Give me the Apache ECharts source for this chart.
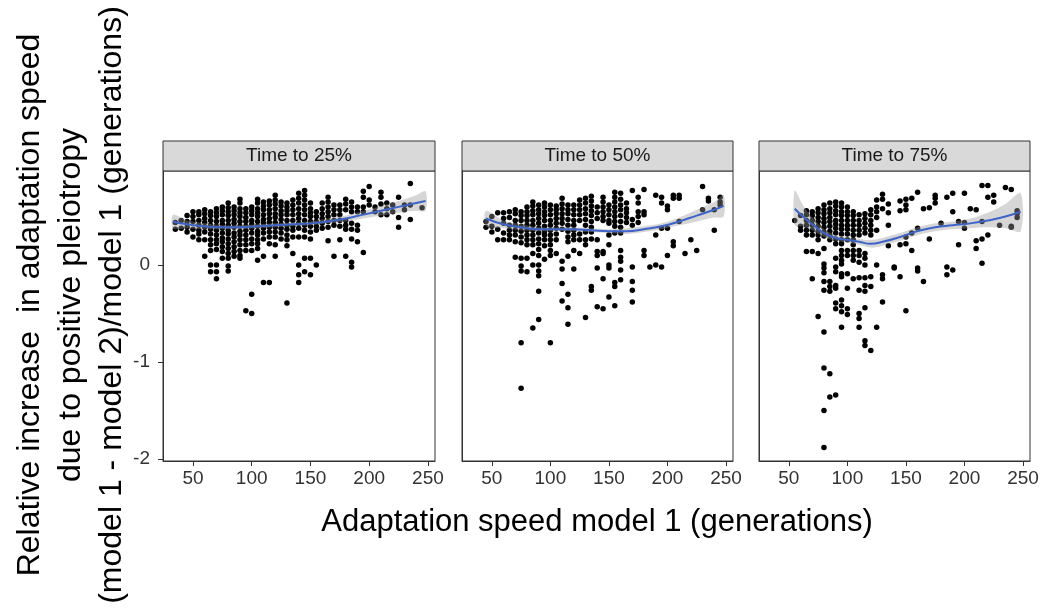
<!DOCTYPE html>
<html><head><meta charset="utf-8">
<script src="https://cdn.jsdelivr.net/npm/echarts@6/dist/echarts.min.js"></script>
<style>html,body{margin:0;padding:0;background:#fff}#c{width:1043px;height:615px}</style>
</head><body><div id="c"></div>
<script>
// ---------- DATA ----------
const panelTitles = ['Time to 25%', 'Time to 50%', 'Time to 75%'];
const xTicks = [50, 100, 150, 200, 250];
const yTicks = [-2, -1, 0];
const xTitle = 'Adaptation speed model 1 (generations)';
const yTitleLines = ['Relative increase  in adaptation speed', 'due to positive pleiotropy', '(model 1 - model 2)/model 1 (generations)'];

// points, grouped by x value: [x, [y values]]
const pts25 = [
 [35,[0.44,0.37]],[40,[0.46,0.38]],[45,[0.51,0.45,0.39,0.34]],[50,[0.55,0.50,0.45,0.37,0.29]],
 [55,[0.55,0.52,0.46,0.41,0.36,0.32,0.26]],[60,[0.57,0.53,0.48,0.44,0.39,0.34,0.26,0.09]],
 [65,[0.55,0.51,0.46,0.41,0.37,0.32,0.26,0.21,0.15,0,-0.07]],
 [70,[0.58,0.54,0.50,0.45,0.40,0.36,0.31,0.26,0.22,0.16,0,-0.07,-0.14]],
 [75,[0.60,0.56,0.52,0.46,0.42,0.38,0.33,0.28,0.24,0.19,0.14,0.07]],
 [80,[0.64,0.59,0.55,0.51,0.46,0.41,0.36,0.32,0.27,0.22,0.17,0.12,0.07,-0.01,-0.06]],
 [85,[0.60,0.56,0.52,0.47,0.43,0.39,0.33,0.29,0.24,0.19,0.14,0.09]],
 [90,[0.68,0.64,0.58,0.54,0.50,0.45,0.40,0.35,0.31,0.26,0.21,0.15,0.10,0.07]],
 [95,[0.58,0.54,0.49,0.45,0.40,0.36,0.31,0.26,0.21,0.15,-0.47]],
 [100,[0.60,0.56,0.52,0.46,0.42,0.38,0.33,0.27,0.22,0.15,-0.30,-0.50]],
 [105,[0.68,0.64,0.58,0.54,0.50,0.45,0.40,0.35,0.31,0.26,0.22,0.17,0.05]],
 [110,[0.65,0.61,0.57,0.52,0.47,0.43,0.38,0.33,0.27,0.09,-0.18]],
 [115,[0.66,0.62,0.57,0.53,0.48,0.44,0.39,0.34,0.29,0.22,-0.18]],
 [120,[0.72,0.67,0.63,0.58,0.53,0.49,0.44,0.39,0.34,0.29,0.21,0.09]],
 [125,[0.65,0.61,0.56,0.52,0.47,0.42,0.38,0.33,0.27]],
 [130,[0.64,0.60,0.56,0.52,0.46,0.41,0.37,0.31,0.26,0.20,-0.39]],
 [135,[0.67,0.62,0.57,0.52,0.46,0.40,0.36,0.29,0.12]],
 [140,[0.74,0.69,0.64,0.58,0.53,0.48,0.43,0.38,0.29,0,-0.10,-0.18]],
 [145,[0.77,0.72,0.67,0.62,0.57,0.52,0.46,0.41,0.36,0.29,0.07,-0.07]],
 [150,[0.64,0.58,0.54,0.50,0.45,0.40,0.34,0.27,0.07,-0.10]],
 [155,[0.55,0.50,0.45,0.40,0.36,0]],
 [160,[0.64,0.58,0.53,0.48,0.43,0.38]],
 [165,[0.70,0.65,0.60,0.55,0.50,0.45,0.39,0.25]],
 [170,[0.62,0.57,0.52,0.46,0.41,0.09]],
 [175,[0.62,0.57,0.52,0.46,0.40,0.26]],
 [180,[0.68,0.63,0.57,0.46,0.41,0.37,0.09]],
 [185,[0.65,0.60,0.55,0.43,0.37,0.27,0.03,-0.02]],
 [190,[0.60,0.55,0.41,0.36,0.24]],
 [195,[0.76,0.70,0.60,0.55,0.13]],
 [200,[0.81,0.67,0.62]],[205,[0.60,0.55]],[210,[0.75,0.70,0.63,0.52]],[215,[0.64,0.58,0.52]],
 [220,[0.62,0.55]],[225,[0.70,0.49,0.39]],[230,[0.62,0.57]],[235,[0.84,0.62,0.47]],[245,[0.59]]
];
const pts50 = [
 [45,[0.45,0.39]],[50,[0.50,0.40,0.34]],[55,[0.54,0.37,0.26]],[60,[0.54,0.48,0.43,0.33,0.26]],
 [65,[0.55,0.49,0.41,0.36,0.31,0.26]],[70,[0.57,0.53,0.46,0.41,0.36,0.31,0.24,0.08]],
 [75,[0.55,0.51,0.46,0.40,0.35,0.29,0.23,0.07,-0.01,-0.06,-0.80,-1.27]],
 [80,[0.60,0.55,0.51,0.46,0.41,0.36,0.31,0.26,0.21,0.07,-0.07]],
 [85,[0.65,0.61,0.56,0.52,0.46,0.41,0.36,0.31,0.26,0.21,0.12,0,-0.65]],
 [90,[0.62,0.57,0.53,0.48,0.43,0.38,0.33,0.27,0.22,0.16,0.10,0,-0.06,-0.11,-0.27,-0.56]],
 [95,[0.64,0.60,0.55,0.51,0.46,0.40,0.35,0.31,0.26,0.20,0.06]],
 [100,[0.62,0.57,0.52,0.46,0.41,0.36,0.31,0.26,0.21,0.15,0.10,-0.80]],
 [105,[0.61,0.57,0.53,0.48,0.43,0.38,0.32,0.26,0.12]],
 [110,[0.69,0.63,0.58,0.53,0.48,0.43,0.37,0.04,-0.04,-0.19,-0.37]],
 [115,[0.62,0.57,0.53,0.47,0.41,0.35,0.29,0.24,0.09,-0.30,-0.44,-0.61]],
 [120,[0.62,0.57,0.52,0.46,0.41,0.36,0.31,0.26,0.15,-0.04]],
 [125,[0.67,0.62,0.57,0.52,0.46,0.32,0.26,0.12]],
 [130,[0.69,0.64,0.58,0.53,0.47,0.41,0.34,0.26,0.21,-0.54]],
 [135,[0.71,0.66,0.61,0.56,0.51,0.45,0.39,0.34,0.27,-0.22,-0.26]],
 [140,[0.60,0.54,0.48,0.26,0.14,0.10,-0.03,-0.43]],
 [145,[0.70,0.65,0.60,0.55,0.50,0.46,0.14,0.12,-0.14,-0.45]],
 [150,[0.62,0.57,0.52,0.46,0.43,0.31,0.21,0,-0.03,-0.33]],
 [155,[0.75,0.70,0.65,0.60,0.55,0.50,0.45,0.40,0.33,-0.18,-0.22,-0.42]],
 [160,[0.74,0.68,0.62,0.57,0.51,0.45,0.39,0.33,0.15,0.08,0.04,-0.05,-0.15]],
 [165,[0.64,0.58,0.54,0.49,0.44]],
 [170,[0.77,0.47,0.41,-0.02,-0.17,-0.26,-0.38]],
 [175,[0.70,0.64,0.55,0.50,0.44]],
 [180,[0.78,0.55,0.52,0.15,0.10]],
 [185,[-0.02]],[190,[0.72,0.31,0]],[195,[0.70,0.64,0.38,-0.02]],[200,[0.61,0.57,0.38,0.10]],
 [205,[0.72,0.69,0.24,0.20]],[210,[0.72,0.69,0.45]],[215,[0.12]],[220,[0.26]],[225,[0.15]],
 [230,[0.81,0.57]],[235,[0.69,0.66]],[240,[0.57,0.36]],[245,[0.70,0.65,0.62]]
];
const pts75 = [
 [55,[0.46]],[60,[0.51,0.40,0.36]],[65,[0.56,0.52,0.46,0.41,0.36,0.31,0.14]],
 [70,[0.55,0.51,0.46,0.41,0.36,0.31,0.14,-0.14]],
 [75,[0.58,0.54,0.49,0.45,0.40,0.35,0.31,0.26,0.12,-0.53]],
 [80,[0.62,0.57,0.53,0.48,0.44,0.39,0.34,0.30,0.17,0.01,-0.03,-0.08,-0.17,-0.26,-0.69,-1.06,-1.50,-1.88]],
 [85,[0.64,0.58,0.54,0.49,0.45,0.40,0.35,0.31,0.26,-0.17,-0.22,-0.27,-1.12,-1.36]],
 [90,[0.65,0.61,0.56,0.52,0.46,0.42,0.38,0.33,0.27,0.22,0.07,-0.02,-0.07,-0.21,-0.24,-0.39,-0.45,-1.34]],
 [95,[0.64,0.60,0.55,0.51,0.46,0.41,0.37,0.32,0.26,0.22,0.15,0.10,0.05,0.01,-0.09,-0.12,-0.36,-0.42,-0.48,-0.64]],
 [100,[0.60,0.55,0.51,0.46,0.41,0.37,0.32,0.26,0.15,0.10,-0.09,-0.24,-0.45,-0.51]],
 [105,[0.55,0.51,0.46,0.41,0.36,0.31,0.26,0.21,0.15,0.10,0.05,-0.14]],
 [110,[0.52,0.46,0.41,0.36,0.31,0.15,0.10,0.03,-0.13,-0.26,-0.50,-0.55,-0.64]],
 [115,[0.53,0.48,0.43,0.38,0.33,0.12,0.07,0,-0.13,-0.21,-0.27,-0.44,-0.78,-0.83]],
 [120,[0.57,0.52,0.46,0.41,0.36,0.31,-0.12,-0.22,-0.88]],
 [125,[0.67,0.60,0.55,0.49,0.36,0,-0.64]],
 [130,[0.73,0.68,0.58,-0.10,-0.14,-0.38]],
 [135,[0.63,0.54,0.41,0.20]],[140,[-0.02,-0.03]],[145,[0.66,0.56,0.21,-0.12]],
 [150,[0.68,0.62,0.57,0.29,0.22,-0.47]],[155,[0.69,0.33,0.15]],[160,[0.75,0.38,-0.03,-0.06]],
 [165,[0.58,-0.17]],[170,[0.59,0.27]],[175,[0.72,0.69,0.64]],[180,[0.43]],[185,[0.70,-0.02,-0.10]],
 [190,[0.74,0.55,-0.05]],[195,[0.45,0.21]],[200,[0.74,0.44,0.38]],[205,[0.58]],[210,[0.57,0.25,0.17]],
 [215,[0.82,0.45,0.27,0.02]],[220,[0.82,0.70,0.31]],[225,[0.72,0.65]],[230,[0.41]],[235,[0.80]],
 [240,[0.78,0.40,0.39]],[245,[0.56,0.53,0.49]]
];

// smooth fits (loess) and confidence bands
const fitX25 = [33,45,60,75,90,105,120,135,150,165,180,195,210,225,240,248];
const fitY25 = [0.45,0.42,0.40,0.39,0.39,0.40,0.41,0.42,0.43,0.45,0.48,0.52,0.56,0.60,0.64,0.66];
const fitLo25 = [0.38,0.38,0.37,0.37,0.37,0.38,0.39,0.40,0.41,0.43,0.45,0.48,0.51,0.54,0.56,0.56];
const fitHi25 = [0.52,0.46,0.43,0.41,0.41,0.42,0.43,0.44,0.45,0.48,0.51,0.56,0.61,0.66,0.72,0.76];

const fitX50 = [45,60,75,90,105,120,135,150,165,180,195,210,225,240,248];
const fitY50 = [0.48,0.42,0.39,0.37,0.37,0.37,0.36,0.35,0.35,0.37,0.40,0.45,0.51,0.57,0.61];
const fitLo50 = [0.40,0.38,0.36,0.35,0.35,0.35,0.34,0.33,0.32,0.34,0.37,0.41,0.45,0.49,0.50];
const fitHi50 = [0.56,0.46,0.42,0.39,0.39,0.39,0.38,0.37,0.38,0.40,0.43,0.49,0.57,0.65,0.72];

const fitX75 = [55,62,70,80,90,100,110,120,130,145,160,175,190,205,220,235,248];
const fitY75 = [0.58,0.50,0.42,0.33,0.28,0.26,0.24,0.22,0.24,0.29,0.35,0.39,0.41,0.43,0.46,0.50,0.55];
const fitLo75 = [0.41,0.40,0.36,0.29,0.25,0.23,0.21,0.18,0.20,0.25,0.31,0.35,0.37,0.38,0.39,0.38,0.35];
const fitHi75 = [0.77,0.62,0.49,0.37,0.31,0.29,0.27,0.26,0.28,0.33,0.39,0.43,0.45,0.48,0.54,0.63,0.74];

// ---------- BUILD ----------
const FONT = '"Liberation Sans", Arial, sans-serif';
const panels = [
  {left:163, width:272, pts:pts25, fx:fitX25, fy:fitY25, lo:fitLo25, hi:fitHi25},
  {left:462, width:271, pts:pts50, fx:fitX50, fy:fitY50, lo:fitLo50, hi:fitHi50},
  {left:759, width:271, pts:pts75, fx:fitX75, fy:fitY75, lo:fitLo75, hi:fitHi75}
];
const TOP = 171, H = 290, STRIP = 30;

const grid = [], xAxis = [], yAxis = [], series = [], graphic = [];
panels.forEach((p, i) => {
  grid.push({left:p.left, top:TOP, width:p.width, height:H, show:true, borderColor:'#333', borderWidth:1, backgroundColor:'#fff'});
  xAxis.push({type:'value', gridIndex:i, min:24.5, max:256,
    axisLine:{show:true, onZero:false, lineStyle:{color:'#333'}},
    axisTick:{show:true, length:5, customValues:xTicks, lineStyle:{color:'#333'}},
    axisLabel:{show:true, customValues:xTicks, color:'#333', fontSize:19, fontFamily:FONT, margin:8},
    splitLine:{show:false}});
  yAxis.push({type:'value', gridIndex:i, min:-2.02, max:0.97,
    axisLine:{show:true, onZero:false, lineStyle:{color:'#333'}},
    axisTick:{show:i===0, length:5, customValues:yTicks, lineStyle:{color:'#333'}},
    axisLabel:{show:i===0, customValues:yTicks, color:'#333', fontSize:19, fontFamily:FONT, margin:13},
    splitLine:{show:false}});
  const data = [];
  p.pts.forEach(([x, ys]) => ys.forEach(y => data.push([x, y])));
  series.push({type:'scatter', xAxisIndex:i, yAxisIndex:i, data, symbolSize:5.5,
    itemStyle:{color:'#000', opacity:1}, z:2, silent:true});
  const hi = p.fx.map((x, k) => [x, p.hi[k]]);
  const lo = p.fx.map((x, k) => [x, p.lo[k]]);
  series.push({type:'custom', xAxisIndex:i, yAxisIndex:i, data:[[p.fx[0], p.fy[0]]], z:3, silent:true,
    renderItem: (params, api) => {
      const poly = hi.map(d => api.coord(d)).concat(lo.slice().reverse().map(d => api.coord(d)));
      return {type:'polygon', shape:{points:poly, smooth:0.3}, style:{fill:'rgba(153,153,153,0.4)'}};
    }});
  series.push({type:'line', xAxisIndex:i, yAxisIndex:i, data:p.fx.map((x, k) => [x, p.fy[k]]),
    smooth:true, showSymbol:false, lineStyle:{color:'#3f64c8', width:2}, z:4, silent:true});
  graphic.push({type:'rect', shape:{x:p.left, y:TOP - STRIP, width:p.width, height:STRIP},
    style:{fill:'#d9d9d9', stroke:'#333', lineWidth:1}});
  graphic.push({type:'text', x:p.left + p.width / 2, y:TOP - STRIP / 2,
    style:{text:panelTitles[i], textAlign:'center', textVerticalAlign:'middle', font:'19px ' + FONT, fill:'#1a1a1a'}});
});
graphic.push({type:'text', x:597, y:522,
  style:{text:xTitle, textAlign:'center', textVerticalAlign:'middle', font:'31px ' + FONT, fill:'#000'}});
graphic.push({type:'text', x:71, y:305, rotation:Math.PI / 2,
  style:{text:yTitleLines.join('\n'), textAlign:'center', textVerticalAlign:'middle', font:'32px ' + FONT, lineHeight:41, fill:'#000'}});

const chart = echarts.init(document.getElementById('c'), null, {renderer:'canvas'});
chart.setOption({animation:false, backgroundColor:'#fff', grid, xAxis, yAxis, series, graphic});
</script></body></html>
